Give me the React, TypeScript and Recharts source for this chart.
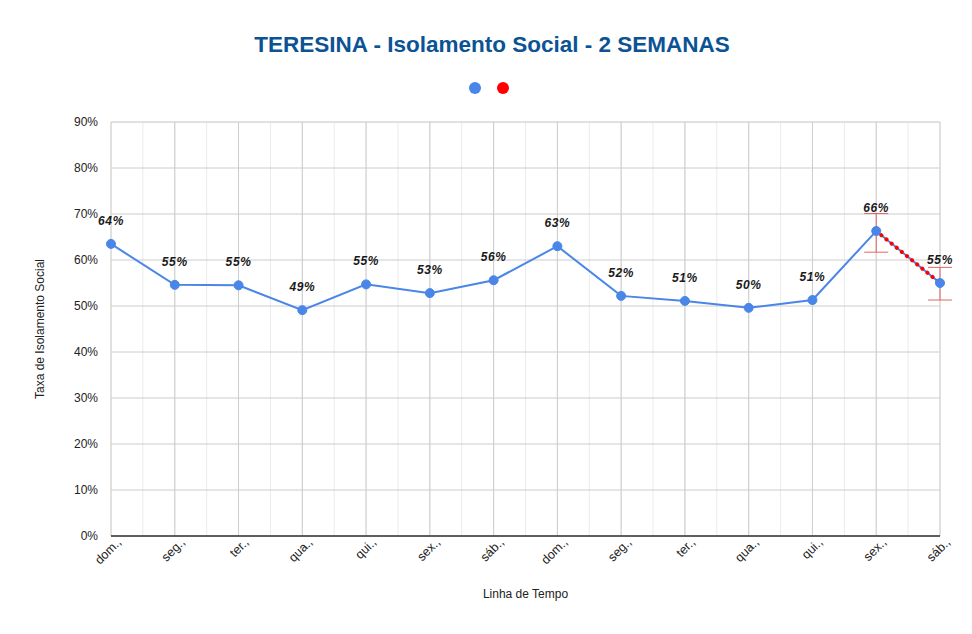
import React from "react";
import {
  CartesianGrid,
  ErrorBar,
  LabelList,
  Legend,
  Line,
  LineChart,
  XAxis,
  YAxis,
} from "recharts";

const dias = [
  "dom.,", "seg.,", "ter.,", "qua.,", "qui.,", "sex.,", "sáb.,",
  "dom.,", "seg.,", "ter.,", "qua.,", "qui.,", "sex.,", "sáb.,",
];
const isolamento = [63.5, 54.6, 54.5, 49.1, 54.7, 52.8, 55.6, 63.0, 52.2, 51.1, 49.6, 51.3, 66.3, 55.0];
const tendencia = [null, null, null, null, null, null, null, null, null, null, null, null, 66.3, 55.0];
const erroTendencia = [null, null, null, null, null, null, null, null, null, null, null, null, [4.6, 3.8], [3.7, 3.4]];

const yTicks = [0, 10, 20, 30, 40, 50, 60, 70, 80, 90];
const yMinor = [0, 5, 10, 15, 20, 25, 30, 35, 40, 45, 50, 55, 60, 65, 70, 75, 80, 85, 90];
const xTicks = [0, 1, 2, 3, 4, 5, 6, 7, 8, 9, 10, 11, 12, 13];
const xMinor = [
  0, 0.5, 1, 1.5, 2, 2.5, 3, 3.5, 4, 4.5, 5, 5.5, 6, 6.5,
  7, 7.5, 8, 8.5, 9, 9.5, 10, 10.5, 11, 11.5, 12, 12.5, 13,
];

const data = dias.map((d, i) => ({
  i,
  dia: d,
  isolamento: isolamento[i],
  tendencia: tendencia[i],
  erro: erroTendencia[i],
}));

const FONT = "Arial, 'Liberation Sans', sans-serif";
const AZUL = "#4a86e8";
const VERMELHO = "#ff0000";

/* eslint-disable @typescript-eslint/no-explicit-any */
function DiaTick({ x, y, payload }: any) {
  const ax = x + 11;
  const ay = y + 7;
  return (
    <text
      x={ax}
      y={ay}
      transform={`rotate(-45 ${ax} ${ay})`}
      textAnchor="end"
      fontSize={12.5}
      fontFamily={FONT}
      fill="#222"
    >
      {dias[payload.value]}
    </text>
  );
}

function ValorLabel({ x, y, value }: any) {
  if (value == null) return null;
  return (
    <text
      x={x}
      y={y - 19}
      textAnchor="middle"
      fontSize={12}
      fontWeight="bold"
      fontStyle="italic"
      fontFamily={FONT}
      letterSpacing={0.6}
      fill="#1a1a1a"
    >
      {Math.round(value)}%
    </text>
  );
}

function Bolinhas({ payload }: any) {
  return (
    <div style={{ height: 44, display: "flex", justifyContent: "center", gap: 16, paddingLeft: 18 }}>
      {(payload || []).map((p: any) => (
        <span
          key={p.value}
          style={{
            marginTop: 4,
            width: 12,
            height: 12,
            borderRadius: 6,
            background: p.color,
            display: "inline-block",
          }}
        />
      ))}
    </div>
  );
}
/* eslint-enable @typescript-eslint/no-explicit-any */

export default function App() {
  return (
    <div
      style={{
        position: "absolute",
        left: 0,
        top: 0,
        width: 972,
        height: 634,
        background: "#fff",
        fontFamily: FONT,
      }}
    >
      <div
        style={{
          position: "absolute",
          top: 32,
          left: 0,
          width: 972,
          textAlign: "center",
          fontSize: 22.5,
          fontWeight: "bold",
          color: "#0b5394",
          paddingLeft: 6,
        }}
      >
        TERESINA - Isolamento Social - 2 SEMANAS
      </div>
      <LineChart
        width={972}
        height={634}
        data={data}
        margin={{ top: 78, right: 32, bottom: 0, left: 20 }}
      >
        <XAxis xAxisId="minor" type="number" dataKey="i" domain={[0, 13]} ticks={xMinor} hide />
        <YAxis yAxisId="minor" type="number" domain={[0, 90]} ticks={yMinor} hide />
        <CartesianGrid xAxisId="minor" yAxisId="minor" stroke="#ebebeb" />
        <CartesianGrid stroke="#cccccc" />
        <XAxis
          type="number"
          dataKey="i"
          domain={[0, 13]}
          ticks={xTicks}
          interval={0}
          height={98}
          tick={<DiaTick />}
          tickLine={false}
          tickSize={0}
          tickMargin={0}
          axisLine={{ stroke: "#333", strokeWidth: 1.5 }}
          label={{
            content: ({ viewBox }: any) => (
              <text
                x={viewBox.x + viewBox.width / 2}
                y={viewBox.y + 62}
                textAnchor="middle"
                fontSize={12}
                fontFamily={FONT}
                fill="#222"
              >
                Linha de Tempo
              </text>
            ),
          }}
        />
        <YAxis
          type="number"
          domain={[0, 90]}
          ticks={yTicks}
          width={91}
          tickFormatter={(v) => `${v}%`}
          tick={{ fontSize: 12, fill: "#222", fontFamily: FONT }}
          tickLine={false}
          axisLine={false}
          tickSize={0}
          tickMargin={13}
          label={{
            content: ({ viewBox }: any) => {
              const lx = viewBox.x + 24;
              const ly = viewBox.y + viewBox.height / 2;
              return (
                <text
                  x={lx}
                  y={ly}
                  transform={`rotate(-90 ${lx} ${ly})`}
                  textAnchor="middle"
                  fontSize={12}
                  fontFamily={FONT}
                  fill="#222"
                >
                  Taxa de Isolamento Social
                </text>
              );
            },
          }}
        />
        <Legend verticalAlign="top" align="center" content={<Bolinhas />} />
        <Line
          dataKey="isolamento"
          name="Isolamento"
          stroke={AZUL}
          strokeWidth={2}
          dot={{ r: 4.5, fill: AZUL, stroke: AZUL, strokeWidth: 1 }}
          legendType="circle"
          isAnimationActive={false}
        >
          <LabelList dataKey="isolamento" content={<ValorLabel />} />
        </Line>
        <Line
          dataKey="tendencia"
          name="Tendência"
          stroke={VERMELHO}
          strokeWidth={4}
          strokeDasharray="0.1 6.5"
          strokeLinecap="round"
          dot={false}
          legendType="circle"
          connectNulls={false}
          isAnimationActive={false}
        >
          <ErrorBar dataKey="erro" direction="y" width={12} stroke="#e06666" strokeWidth={1} />
        </Line>
      </LineChart>
    </div>
  );
}
